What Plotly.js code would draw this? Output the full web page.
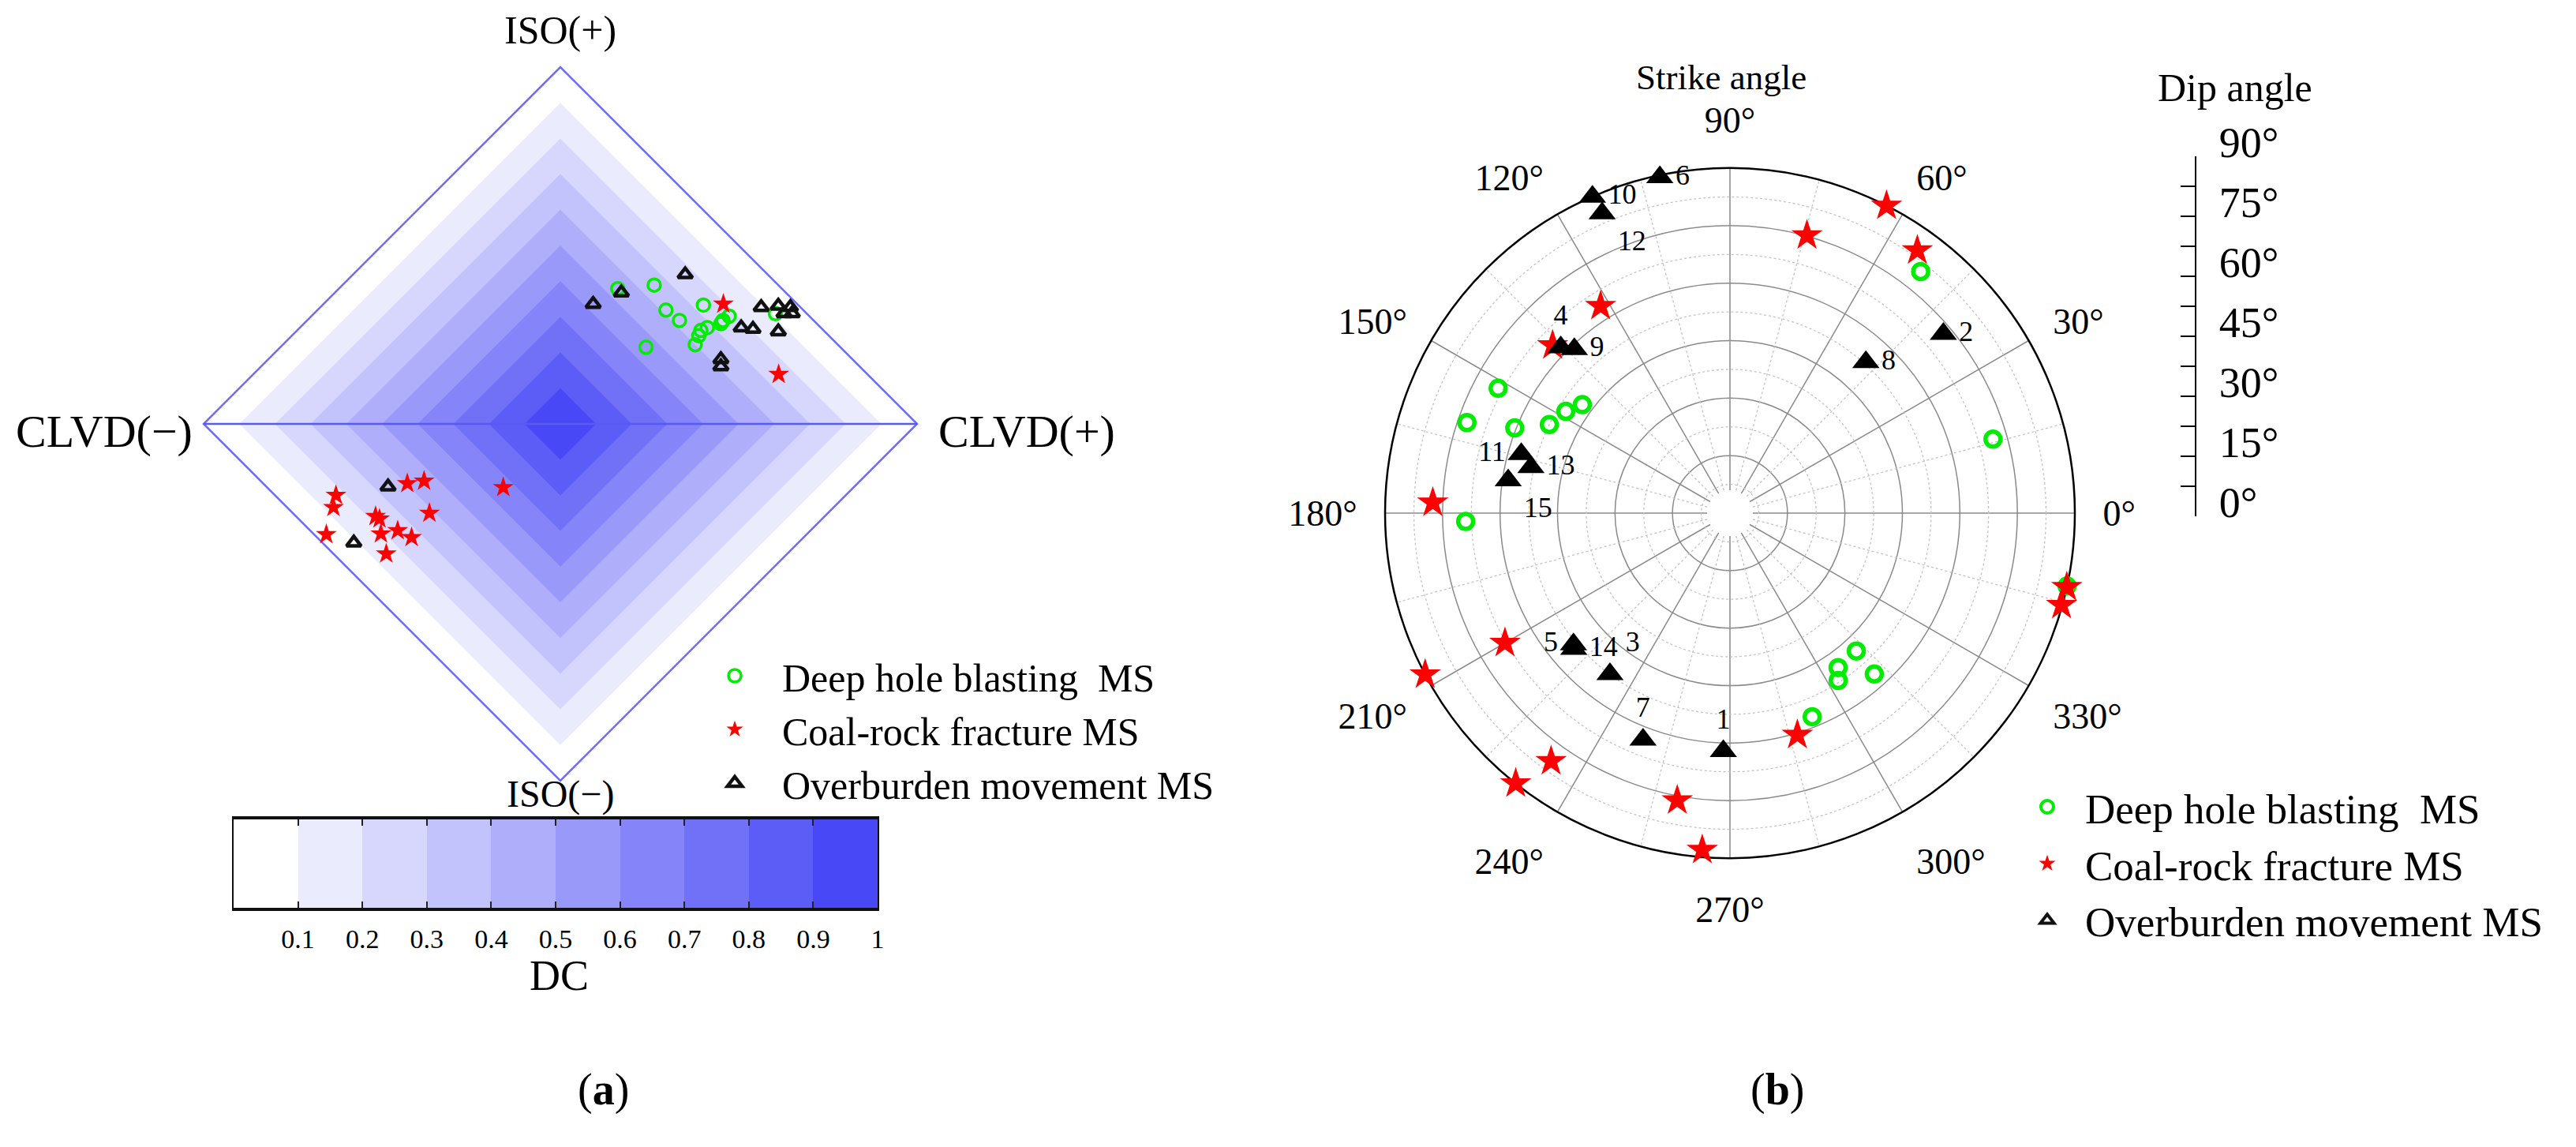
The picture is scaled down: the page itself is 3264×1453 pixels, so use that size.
<!DOCTYPE html>
<html><head><meta charset="utf-8">
<script src="https://cdn.plot.ly/plotly-3.0.1.min.js"></script>
<style>html,body{margin:0;padding:0;background:#fff}#chart{width:3264px;height:1453px}</style>
</head><body><div id="chart"></div>
<script>
// ================= DATA =================
// Panel (a): DC colour levels
const dcLevels = [0.1, 0.2, 0.3, 0.4, 0.5, 0.6, 0.7, 0.8, 0.9, 1.0];
const dcTickLabels = ['0.1','0.2','0.3','0.4','0.5','0.6','0.7','0.8','0.9','1'];
const dcColors = ['#ffffff','#ebebfe','#d7d7fd','#c2c2fc','#aeaefb','#9999fa','#8585f9','#7171f8','#5c5cf7','#4848f6'];

// Panel (a): source-type points (CLVD component, ISO component)
const blastA_clvd = [0.161,0.263,0.296,0.334,0.401,0.240,0.378,0.388,0.394,0.412,0.450,0.456,0.473,0.454,0.603];
const blastA_iso  = [0.379,0.389,0.319,0.290,0.333,0.215,0.222,0.247,0.262,0.270,0.281,0.290,0.302,0.287,0.309];
const fractA_clvd = [0.457,0.612,-0.629,-0.636,-0.656,-0.429,-0.382,-0.160,-0.518,-0.507,-0.367,-0.503,-0.456,-0.417,-0.488];
const fractA_iso  = [0.336,0.139,-0.200,-0.234,-0.310,-0.167,-0.160,-0.178,-0.259,-0.266,-0.250,-0.308,-0.299,-0.318,-0.364];
const overA_clvd  = [0.092,0.171,0.350,0.450,0.450,0.507,0.540,0.563,0.611,0.627,0.645,0.650,0.611,-0.483,-0.579];
const overA_iso   = [0.336,0.368,0.419,0.181,0.161,0.270,0.266,0.327,0.331,0.310,0.327,0.310,0.259,-0.176,-0.333];

// Panel (b): strike (deg) and dip (deg)
const blastB_strike = [51.7,15.7,151.7,161,158.4,153.9,148.2,143.7,181.8,347.8,312.5,305,311.9,302.9,292];
const blastB_dip    = [80.3,71.3,68.7,72.6,60.4,52.5,50.4,47.8,69,90,48.8,49.2,56.4,52,57.3];
const fractB_strike = [63,74.5,54.5,122,136.6,178,344.5,347.6,210,207.9,234.2,231.6,259.6,265.3,286.9];
const fractB_dip    = [90,75.2,84.2,63.7,63.7,77.6,89.8,90,67.8,90,79.8,90,76.2,88.2,60.5];
const overB_id      = ['1','2','3','4','5','6','7','8','9','10','11','12','13','14','15'];
const overB_strike  = [268.4,40,233.3,135.6,220,101.8,249,48,133.5,113.5,164.2,113.1,167,221,171.6];
const overB_dip     = [62.1,72.7,52.4,61.8,53.3,89.5,63.3,53,59,90,56.6,85,53.3,54,58.5];
const overB_labelPos = ['top center','middle right','top right','top center','middle left','middle right','top center',
                        'middle right','middle right','middle right','middle left','bottom right','middle right','middle right','bottom right'];

const strikeTicks = [0,30,60,90,120,150,180,210,240,270,300,330];
const strikeTickText = ['0°','30°','60°','90°','120°','150°','180°','210°','240°','270°','300°','330°'];
const dipTicks = [0,15,30,45,60,75,90];
const dipTickText = ['0°','15°','30°','45°','60°','75°','90°'];
const dipMinorCircles = [7.5,22.5,37.5,52.5,67.5,82.5];
const strikeMinorSpokes = [15,45,75,105,135,165,195,225,255,285,315,345];

const seriesNames = ['Deep hole blasting\u00a0 MS','Coal-rock fracture MS','Overburden movement MS'];

// ================= LAYOUT HELPERS =================
const W = 3264, H = 1453;
const fx = p => p / W;
const fy = p => 1 - p / H;
const FONT = 'Liberation Serif, Times New Roman, serif';
const GREEN = '#00ec00', RED = '#ff0000', BLACK = '#111111';

// Panel (a) geometry
const dA = {cx: 710, cy: 537, half: 452, pad: 1.1};
const ext = dA.half * dA.pad;

// Panel (b) geometry
const pB = {cx: 2192, cy: 650, r: 437};

// ================= SHAPES (diamond bands) =================
const shapes = [];
dcLevels.forEach((lv, i) => {
  const s = 1 - (lv - 0.1);
  shapes.push({type:'path', xref:'x', yref:'y', layer:'below',
    path:`M ${s},0 L 0,${s} L ${-s},0 L 0,${-s} Z`,
    fillcolor: dcColors[i], line:{width:0}});
});
shapes.push({type:'path', xref:'x', yref:'y', layer:'below', path:'M 1,0 L 0,1 L -1,0 L 0,-1 Z',
  line:{color:'#6e6ef2', width:2.5}});
shapes.push({type:'line', xref:'x', yref:'y', layer:'below', x0:-1, y0:0, x1:1, y1:0,
  line:{color:'#5a5af0', width:2.5}});

// ================= TRACES =================
const traces = [];
traces.push({type:'scatter', x: blastA_clvd, y: blastA_iso, mode:'markers', name: seriesNames[0],
  legend:'legend', cliponaxis:false, hoverinfo:'skip',
  marker:{symbol:'circle-open', size:16, color:GREEN, line:{width:3.5, color:GREEN}}});
traces.push({type:'scatter', x: fractA_clvd, y: fractA_iso, mode:'markers', name: seriesNames[1],
  legend:'legend', cliponaxis:false, hoverinfo:'skip',
  marker:{symbol:'star', size:20, color:RED, line:{width:0}}});
traces.push({type:'scatter', x: overA_clvd, y: overA_iso, mode:'markers', name: seriesNames[2],
  legend:'legend', cliponaxis:false, hoverinfo:'skip',
  marker:{symbol:'triangle-up-open', size:16, color:BLACK, line:{width:4.5, color:BLACK}}});

// colour bar
const cs = [];
dcColors.forEach((c, i) => { cs.push([i / dcColors.length, c]); cs.push([(i + 1) / dcColors.length, c]); });
traces.push({type:'heatmap', xaxis:'x3', yaxis:'y3', x: dcLevels.map(l => +(l - 0.05).toFixed(2)), y:[0],
  z:[dcLevels.map(l => +(l - 0.05).toFixed(2))], zmin:0, zmax:1, colorscale:cs, showscale:false, hoverinfo:'skip'});

// dip axis holder
traces.push({type:'scatter', xaxis:'x2', yaxis:'y2', x:[null], y:[null], mode:'markers', showlegend:false, hoverinfo:'skip'});

// polar minor grid (dotted)
const gR = [], gT = [];
dipMinorCircles.forEach(r => { for (let t = 0; t <= 360; t += 3) { gR.push(r); gT.push(t); } gR.push(null); gT.push(null); });
strikeMinorSpokes.forEach(t => { gR.push(0, 90, null); gT.push(t, t, null); });
traces.push({type:'scatterpolar', r:gR, theta:gT, mode:'lines', showlegend:false, hoverinfo:'skip',
  line:{color:'#c4c4c4', width:1.3, dash:'dot'}});
// central hole
traces.push({type:'scatterpolar', r:[0], theta:[0], mode:'markers', showlegend:false, hoverinfo:'skip',
  marker:{size:58, color:'#ffffff', line:{width:0}}});

traces.push({type:'scatterpolar', r: blastB_dip, theta: blastB_strike, mode:'markers', showlegend:false,
  cliponaxis:false, hoverinfo:'skip',
  marker:{symbol:'circle-open', size:19, color:GREEN, line:{width:5.5, color:GREEN}}});
traces.push({type:'scatterpolar', r: fractB_dip, theta: fractB_strike, mode:'markers', showlegend:false,
  cliponaxis:false, hoverinfo:'skip',
  marker:{symbol:'star', size:30, color:RED, line:{width:0}}});
traces.push({type:'scatterpolar', r: overB_dip, theta: overB_strike, mode:'markers+text', showlegend:false,
  cliponaxis:false, hoverinfo:'skip', text: overB_id, textposition: overB_labelPos,
  textfont:{family:FONT, size:36, color:'#000'},
  marker:{symbol:'triangle-up', size:30, color:'#000', line:{width:0}}});

// legend entries for panel (b)
traces.push({type:'scatter', xaxis:'x2', yaxis:'y2', x:[null], y:[null], mode:'markers', name: seriesNames[0],
  legend:'legend2', legendgroup:'g1', hoverinfo:'skip',
  marker:{symbol:'circle-open', size:16, color:GREEN, line:{width:4, color:GREEN}}});
traces.push({type:'scatter', xaxis:'x2', yaxis:'y2', x:[null], y:[null], mode:'markers', name: seriesNames[1],
  legend:'legend2', legendgroup:'g2', hoverinfo:'skip',
  marker:{symbol:'star', size:16, color:RED, line:{width:0}}});
traces.push({type:'scatter', xaxis:'x2', yaxis:'y2', x:[null], y:[null], mode:'markers', name: seriesNames[2],
  legend:'legend2', legendgroup:'g3', hoverinfo:'skip',
  marker:{symbol:'triangle-up-open', size:15, color:BLACK, line:{width:4, color:BLACK}}});

// ================= ANNOTATIONS =================
const ann = (text, px, py, size, xanchor) => ({text, x: fx(px), y: fy(py), xref:'paper', yref:'paper',
  xanchor: xanchor || 'center', yanchor:'middle', showarrow:false, font:{family:FONT, size, color:'#000'}});
const annotations = [
  ann('ISO(+)', 710, 38, 50),
  ann('CLVD(−)', 246, 546, 58, 'right'),
  ann('CLVD(+)', 1187, 546, 58, 'left'),
  ann('ISO(−)', 710, 1006, 48),
  ann('DC', 708, 1236, 54),
  ann('(<b>a</b>)', 764, 1380, 56),
  ann('(<b>b</b>)', 2252, 1380, 56),
  ann('Strike angle', 2181, 98, 45),
  ann('Dip angle', 2832, 111, 50)
];

// ================= LAYOUT =================
const layout = {
  width: W, height: H, margin:{l:0, r:0, t:0, b:0}, paper_bgcolor:'#fff', plot_bgcolor:'rgba(0,0,0,0)',
  font:{family:FONT, color:'#000'},
  showlegend:true,
  xaxis:{domain:[fx(dA.cx - ext), fx(dA.cx + ext)], range:[-dA.pad, dA.pad], visible:false, fixedrange:true},
  yaxis:{domain:[fy(dA.cy + ext), fy(dA.cy - ext)], range:[-dA.pad, dA.pad], visible:false, fixedrange:true},
  xaxis2:{domain:[fx(2730), fx(2781)], anchor:'y2', range:[0,1], visible:false},
  yaxis2:{domain:[fy(654), fy(198)], anchor:'x2', side:'right', range:[0,90],
    tickmode:'array', tickvals: dipTicks, ticktext: dipTickText, ticks:'inside', ticklen:18, tickwidth:2, tickcolor:'#000',
    showline:true, linecolor:'#000', linewidth:2, showgrid:false, zeroline:false, ticklabelstandoff:18, ticklabelshift:-18,
    tickfont:{family:FONT, size:54},
    minor:{tickmode:'linear', tick0:0, dtick:7.5, ticks:'inside', ticklen:18, tickwidth:2, tickcolor:'#000', showgrid:false}},
  xaxis3:{domain:[fx(296), fx(1112)], anchor:'y3', range:[0,1], tickmode:'array', tickvals: dcLevels, ticktext: dcTickLabels,
    ticks:'inside', ticklen:8, tickwidth:2, tickcolor:'#222', showline:true, linecolor:'#111', linewidth:4, mirror:'allticks',
    showgrid:false, zeroline:false, tickfont:{family:FONT, size:34}, ticklabelstandoff:6},
  yaxis3:{domain:[fy(1150), fy(1038)], anchor:'x3', range:[-0.5,0.5], showticklabels:false, ticks:'',
    showline:true, linecolor:'#111', linewidth:2, mirror:true, showgrid:false, zeroline:false},
  polar:{
    domain:{x:[fx(pB.cx - pB.r), fx(pB.cx + pB.r)], y:[fy(pB.cy + pB.r), fy(pB.cy - pB.r)]},
    bgcolor:'rgba(0,0,0,0)',
    angularaxis:{rotation:0, direction:'counterclockwise', tickmode:'array', tickvals: strikeTicks, ticktext: strikeTickText,
      showline:true, linecolor:'#000', linewidth:2.5, gridcolor:'#8a8a8a', gridwidth:1.5, layer:'below traces',
      ticks:'outside', ticklen:25, tickcolor:'rgba(0,0,0,0)', tickfont:{family:FONT, size:46, color:'#000'}},
    radialaxis:{range:[0,90], tickmode:'array', tickvals:[15,30,45,60,75], showticklabels:false, ticks:'',
      showline:false, gridcolor:'#8a8a8a', gridwidth:1.5, layer:'below traces', angle:0}
  },
  legend:{x: fx(871), y: fy(817), xanchor:'left', yanchor:'top', bgcolor:'rgba(0,0,0,0)', itemwidth:110,
    tracegroupgap:0, font:{family:FONT, size:50, color:'#000'}, traceorder:'normal'},
  legend2:{x: fx(2546), y: fy(981), xanchor:'left', yanchor:'top', bgcolor:'rgba(0,0,0,0)', itemwidth:86,
    tracegroupgap:10, font:{family:FONT, size:53, color:'#000'}, traceorder:'normal'},
  shapes, annotations
};

Plotly.newPlot('chart', traces, layout, {staticPlot:true, displayModeBar:false});
</script>
</body></html>
